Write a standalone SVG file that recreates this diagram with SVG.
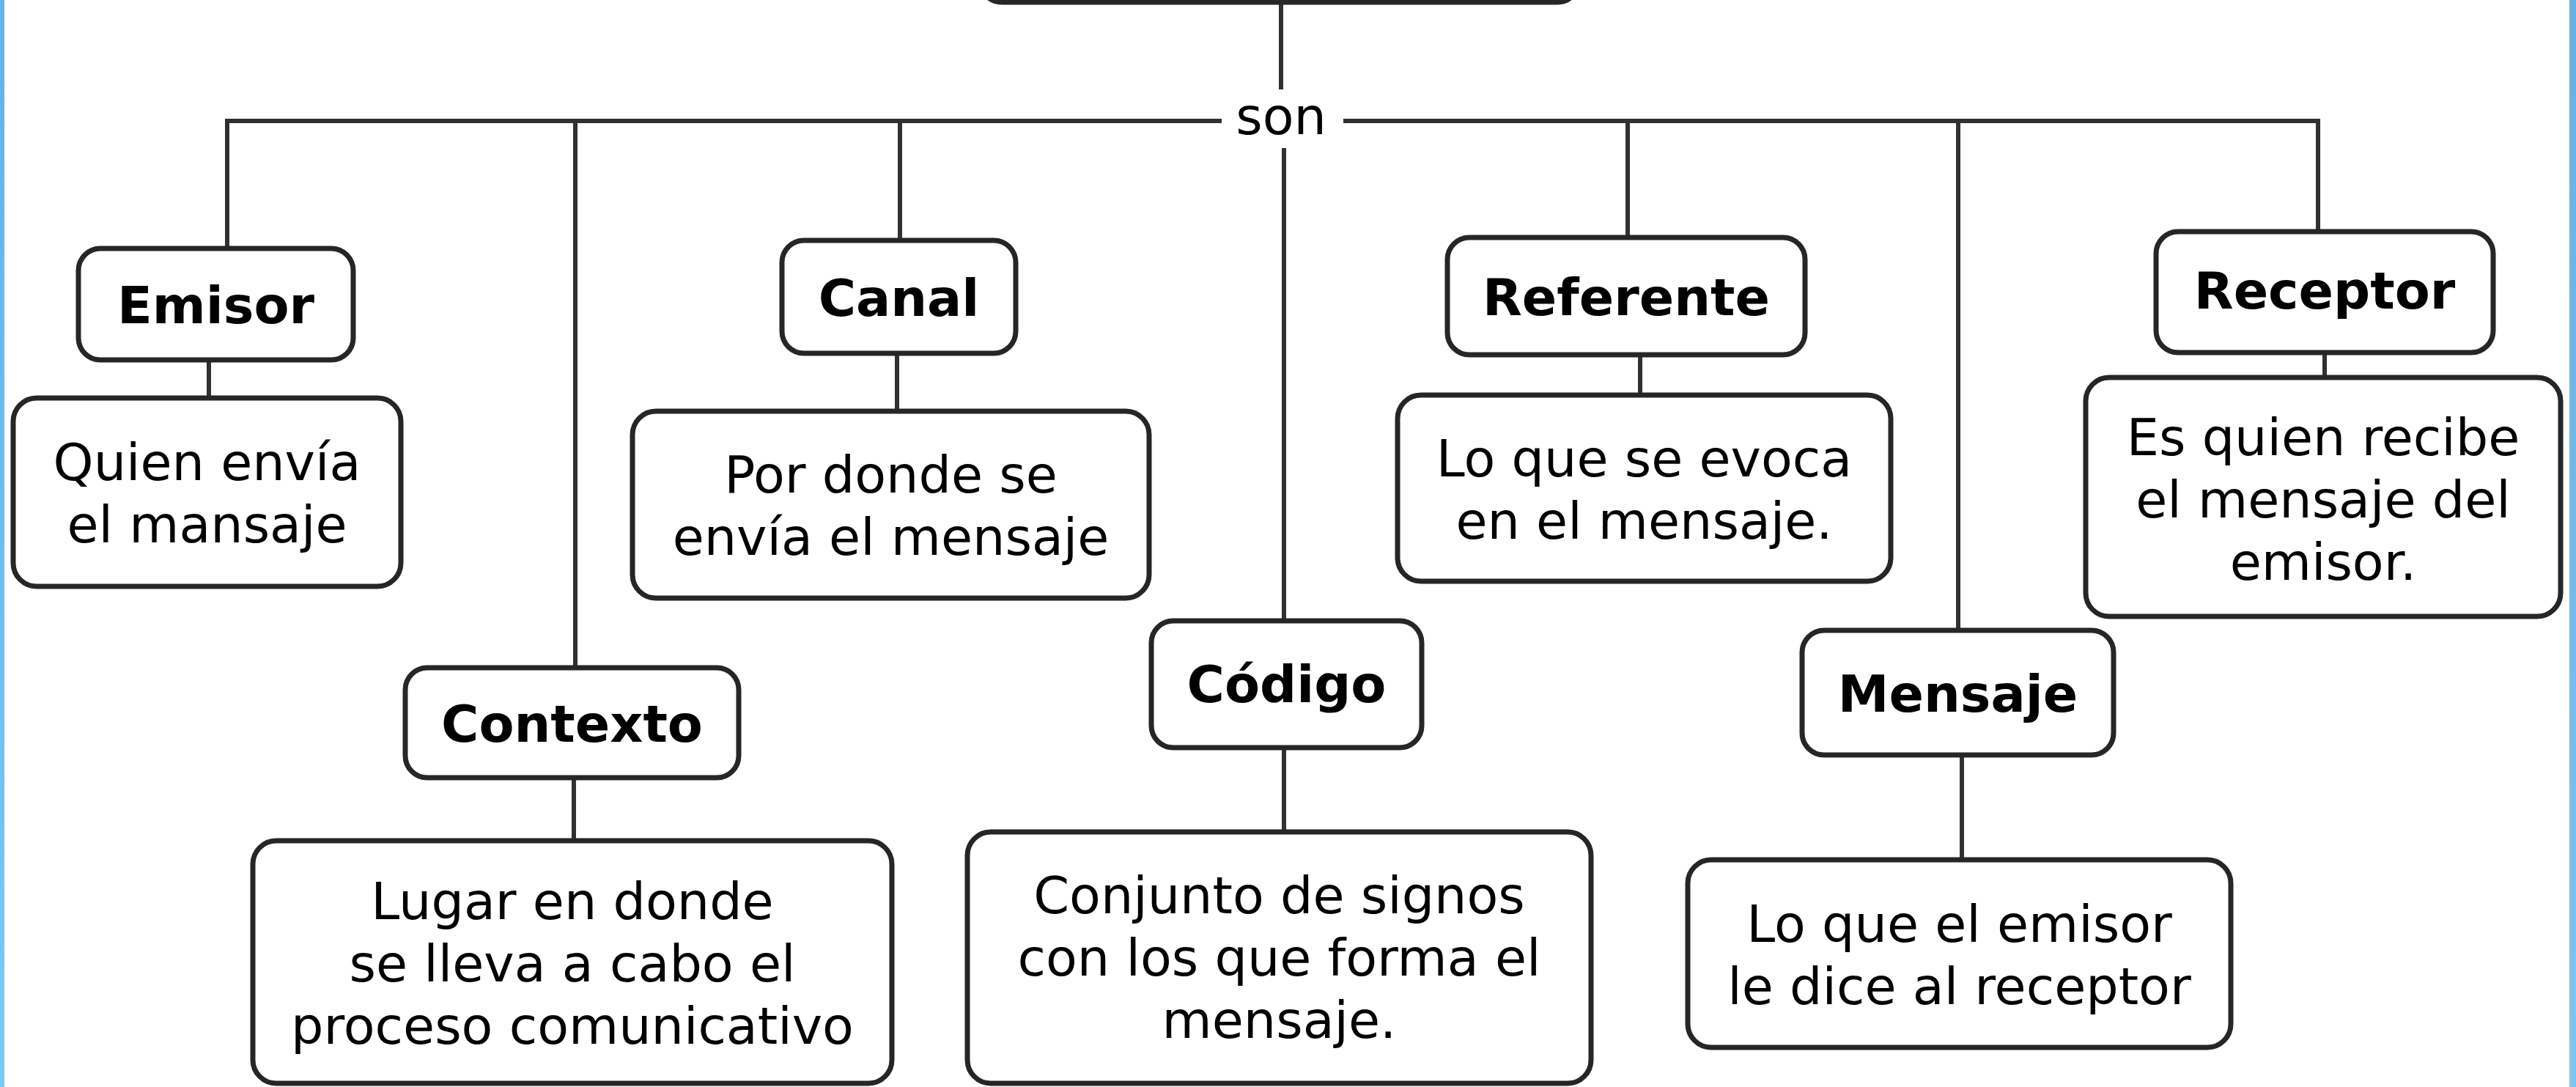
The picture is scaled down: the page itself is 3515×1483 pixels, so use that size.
<svg xmlns="http://www.w3.org/2000/svg" width="3515" height="1483" viewBox="0 0 3515 1483">
<defs>
<style>
.box{fill:#ffffff;stroke:#262626;stroke-width:7}
.c{stroke:#303030;stroke-width:6;fill:none}
.t{font-family:"DejaVu Sans","Verdana",sans-serif;font-size:70px;fill:#000000;text-anchor:middle}
.b{font-weight:bold}
</style>
<linearGradient id="blue" x1="0" y1="0" x2="0" y2="1">
<stop offset="0" stop-color="#66b2e3"/>
<stop offset="1" stop-color="#7fc6f0"/>
</linearGradient>
</defs>
<rect x="0" y="0" width="3515" height="1483" fill="#ffffff"/>
<rect x="0" y="0" width="6" height="1483" fill="url(#blue)"/>
<rect x="3506" y="0" width="9" height="1483" fill="url(#blue)"/>

<g id="connectors">
<line class="c" x1="1748" y1="4" x2="1748" y2="122"/>
<text class="t" x="1748" y="183">son</text>
<polyline class="c" points="310,339 310,165 1667,165"/>
<polyline class="c" points="1833,165 3163,165 3163,316"/>
<line class="c" x1="785" y1="165" x2="785" y2="911"/>
<line class="c" x1="1228" y1="165" x2="1228" y2="328"/>
<line class="c" x1="1752" y1="202" x2="1752" y2="847"/>
<line class="c" x1="2221" y1="165" x2="2221" y2="324"/>
<line class="c" x1="2672" y1="165" x2="2672" y2="860"/>
<line class="c" x1="285" y1="491" x2="285" y2="543"/>
<line class="c" x1="783" y1="1061" x2="783" y2="1147"/>
<line class="c" x1="1224" y1="482" x2="1224" y2="561"/>
<line class="c" x1="1752" y1="1020" x2="1752" y2="1135"/>
<line class="c" x1="2238" y1="484" x2="2238" y2="539"/>
<line class="c" x1="2677" y1="1030" x2="2677" y2="1173"/>
<line class="c" x1="3172" y1="481" x2="3172" y2="515"/>
</g>

<g id="top">
<rect class="box" x="1337" y="-100" width="818" height="103" rx="30"/>
</g>

<g id="emisor">
<rect class="box" x="107" y="339" width="375" height="152" rx="30"/>
<text class="t b" x="294.5" y="441">Emisor</text>
</g>
<g id="emisor-desc">
<rect class="box" x="18" y="543" width="529" height="257" rx="32"/>
<text class="t" x="282.5" y="655">Quien envía</text>
<text class="t" x="282.5" y="740">el mansaje</text>
</g>

<g id="contexto">
<rect class="box" x="553" y="911" width="455" height="150" rx="30"/>
<text class="t b" x="780.5" y="1012">Contexto</text>
</g>
<g id="contexto-desc">
<rect class="box" x="345" y="1147" width="872" height="331" rx="32"/>
<text class="t" x="781" y="1254">Lugar en donde</text>
<text class="t" x="781" y="1339">se lleva a cabo el</text>
<text class="t" x="781" y="1424">proceso comunicativo</text>
</g>

<g id="canal">
<rect class="box" x="1067" y="328" width="319" height="154" rx="30"/>
<text class="t b" x="1226.5" y="431">Canal</text>
</g>
<g id="canal-desc">
<rect class="box" x="863" y="561" width="705" height="255" rx="32"/>
<text class="t" x="1215.5" y="672">Por donde se</text>
<text class="t" x="1215.5" y="757">envía el mensaje</text>
</g>

<g id="codigo">
<rect class="box" x="1571" y="847" width="369" height="173" rx="30"/>
<text class="t b" x="1755.5" y="958">Código</text>
</g>
<g id="codigo-desc">
<rect class="box" x="1320" y="1135" width="851" height="343" rx="32"/>
<text class="t" x="1745.5" y="1246">Conjunto de signos</text>
<text class="t" x="1745.5" y="1331">con los que forma el</text>
<text class="t" x="1745.5" y="1416">mensaje.</text>
</g>

<g id="referente">
<rect class="box" x="1975" y="324" width="488" height="160" rx="30"/>
<text class="t b" x="2219" y="430">Referente</text>
</g>
<g id="referente-desc">
<rect class="box" x="1907" y="539" width="673" height="254" rx="32"/>
<text class="t" x="2243.5" y="650">Lo que se evoca</text>
<text class="t" x="2243.5" y="735">en el mensaje.</text>
</g>

<g id="mensaje">
<rect class="box" x="2459" y="860" width="425" height="170" rx="30"/>
<text class="t b" x="2671.5" y="971">Mensaje</text>
</g>
<g id="mensaje-desc">
<rect class="box" x="2303" y="1173" width="741" height="256" rx="32"/>
<text class="t" x="2673.5" y="1285">Lo que el emisor</text>
<text class="t" x="2673.5" y="1370">le dice al receptor</text>
</g>

<g id="receptor">
<rect class="box" x="2942" y="316" width="460" height="165" rx="30"/>
<text class="t b" x="3172" y="421">Receptor</text>
</g>
<g id="receptor-desc">
<rect class="box" x="2846" y="515" width="648" height="326" rx="32"/>
<text class="t" x="3170" y="621">Es quien recibe</text>
<text class="t" x="3170" y="706">el mensaje del</text>
<text class="t" x="3170" y="791">emisor.</text>
</g>
</svg>
